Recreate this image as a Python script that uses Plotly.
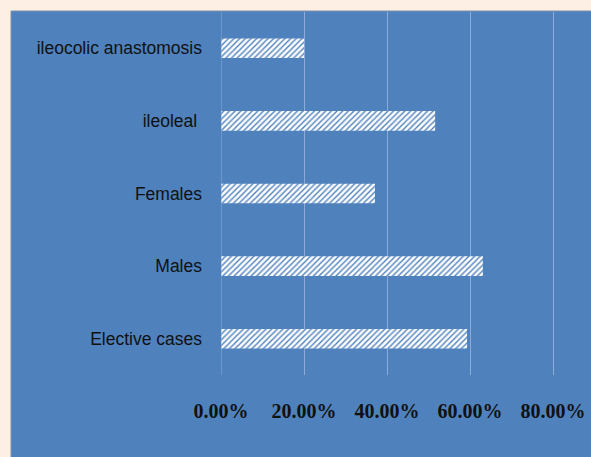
import plotly.graph_objects as go

categories = ["Elective cases", "Males", "Females", "ileoleal ", "ileocolic anastomosis"]
values = [0.593, 0.631, 0.371, 0.516, 0.200]
tick_vals = [0, 0.2, 0.4, 0.6, 0.8]
tick_text = ["0.00%", "20.00%", "40.00%", "60.00%", "80.00%"]

BLUE = "#4f81bd"
PEACH = "#fdefe3"

W, H = 591, 457
L, R, T, B = 221, 0, 12, 82
pw = W - L - R
ph = H - T - B

fig = go.Figure(go.Bar(
    y=categories, x=values, orientation="h", width=0.27,
    marker=dict(color="white", line=dict(width=0),
                pattern=dict(shape="/", bgcolor="white", fgcolor=BLUE,
                             size=4, solidity=0.35, fillmode="replace")),
))

fig.add_shape(type="rect", xref="paper", yref="paper",
              x0=(11 - L) / pw, x1=(W + 5 - L) / pw,
              y0=-(H + 5 - T - ph) / ph, y1=(ph + T - 11) / ph,
              fillcolor=BLUE, line=dict(color="#8091a8", width=1), layer="below")

fig.update_layout(
    width=W, height=H,
    margin=dict(l=L, r=R, t=T, b=B, pad=0),
    paper_bgcolor=PEACH, plot_bgcolor="rgba(0,0,0,0)",
    showlegend=False,
    bargap=0.73,
)
fig.update_xaxes(range=[0, pw / 415.0], tickvals=tick_vals, ticktext=tick_text,
                 showgrid=True, gridcolor="#8eaad6", gridwidth=1,
                 zeroline=False, showline=False, ticks="", ticklen=0,
                 tickfont=dict(family="Liberation Serif", size=20, color="#111111",
                               weight="bold"),
                 ticklabelstandoff=22)
fig.update_yaxes(range=[-0.5, 4.5], showgrid=False, zeroline=False, showline=False,
                 ticks="", ticklabelstandoff=18,
                 tickfont=dict(family="Liberation Sans", size=17.5, color="#111111"))
fig.add_vline(x=0, line=dict(color="#8eaad6", width=1))

fig.write_html("out.html")
